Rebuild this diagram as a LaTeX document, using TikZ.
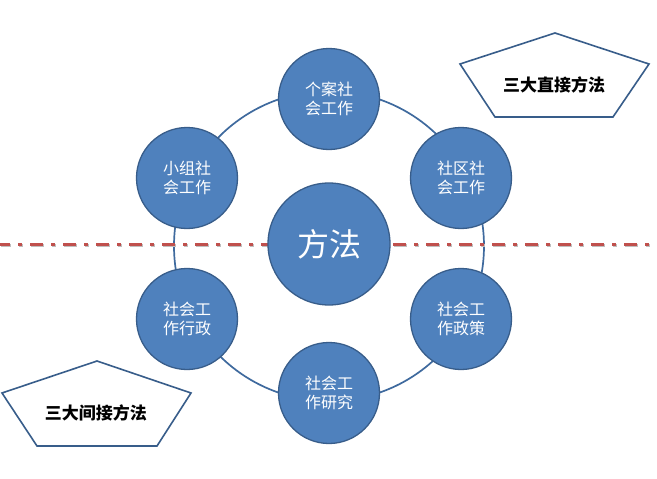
\documentclass[tikz,border=0pt]{standalone}
\usepackage{fontspec}
\newfontfamily\cjk{Noto Sans CJK SC}
\definecolor{cfill}{HTML}{4F81BD}
\definecolor{cborder}{HTML}{385D8A}
\definecolor{ringc}{HTML}{3F6A9E}
\definecolor{dashred}{HTML}{C0504D}
\tikzset{
  bubble/.style={circle, fill=cfill, draw=cborder, line width=1.3pt, minimum size=101pt, inner sep=0pt,
    text=white, align=center, font=\cjk\fontsize{16}{18.5}\selectfont},
  hub/.style={bubble, minimum size=122pt, font=\cjk\fontsize{32}{36}\selectfont},
  penta/.style={draw=cborder, line width=1.6pt, fill=white},
  pentalabel/.style={font=\cjk\bfseries\fontsize{17}{20}\selectfont, text=black}
}
\begin{document}
\begin{tikzpicture}[x=1pt,y=-1pt]
\useasboundingbox[fill=white] (0,0) rectangle (657,479);
% ring
\coordinate (ringc) at (329,246);
\draw[ringc, line width=1.7pt] (ringc) circle[radius=155pt];
% dash-dot line with shadow
\coordinate (dl) at (0,244);
\coordinate (dr) at (657,244);
\draw[black!25, line width=3pt, dash pattern=on 13pt off 8pt on 4pt off 8pt, dash phase=3pt, transform canvas={xshift=0.8pt,yshift=-1.6pt}] (dl) -- (dr);
\draw[dashred, line width=3pt, dash pattern=on 13pt off 8pt on 4pt off 8pt, dash phase=3pt] (dl) -- (dr);
% circles
\node[hub] (center) at (329,244) {方法};
\node[bubble] (t)  at (329,99)  {个案社\\会工作};
\node[bubble] (tr) at (461,178) {社区社\\会工作};
\node[bubble] (br) at (461,319) {社会工\\作政策};
\node[bubble] (b)  at (329,393) {社会工\\作研究};
\node[bubble] (bl) at (187,319) {社会工\\作行政};
\node[bubble] (tl) at (187,178) {小组社\\会工作};
% pentagons
\draw[penta] (555,33) -- (649,64) -- (613,117) -- (495,117) -- (460,64) -- cycle;
\node[pentalabel] (direct) at (554,85) {三大直接方法};
\draw[penta] (97,361) -- (191,393) -- (157,446) -- (37,446) -- (2,393) -- cycle;
\node[pentalabel] (indirect) at (96,413) {三大间接方法};
\end{tikzpicture}
\end{document}
